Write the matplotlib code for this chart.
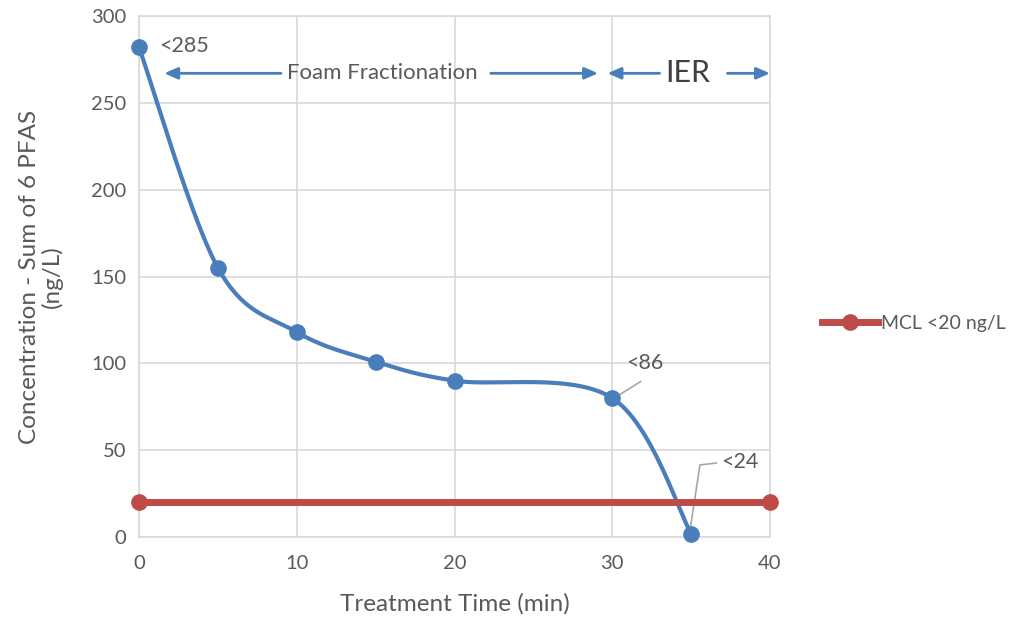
import numpy as np
import matplotlib
matplotlib.use("Agg")
import matplotlib.pyplot as plt
from matplotlib.lines import Line2D

# Data
times = [0, 5, 10, 15, 20, 30, 35]
conc = [282, 155, 118, 101, 90, 80, 2]
mcl_x = [0, 40]
mcl_y = [20, 20]
x_ticks = [0, 10, 20, 30, 40]
y_ticks = [0, 50, 100, 150, 200, 250, 300]

BLUE = "#4a7ebb"
RED = "#be4b48"
GRID = "#d9d9d9"
TXT = "#595959"
FONT = ["Lato", "DejaVu Sans"]
plt.rcParams['font.family'] = FONT

fig = plt.figure(figsize=(10.21, 6.24), dpi=100)
ax = fig.add_axes([139/1021, (624-537)/624, (770-139)/1021, (537-16)/624])
ax.set_xlim(0, 40)
ax.set_ylim(0, 300)
ax.set_xticks(x_ticks)
ax.set_yticks(y_ticks)
ax.grid(True, color=GRID, linewidth=1.2)
ax.set_axisbelow(True)
for s in ax.spines.values():
    s.set_color(GRID)
    s.set_linewidth(1.2)
ax.tick_params(axis='y', length=0, labelsize=14.5, colors=TXT, pad=9)
ax.tick_params(axis='x', length=0, labelsize=14.5, colors=TXT, pad=13)

# smoothed line (Catmull-Rom in display space, like Excel)
fig.canvas.draw()
pts = ax.transData.transform(np.column_stack([times, conc]))
P = np.vstack([pts[0], pts, pts[-1]])
curve = []
t = np.linspace(0, 1, 60)
for i in range(1, len(P) - 2):
    p0, p1, p2, p3 = P[i-1], P[i], P[i+1], P[i+2]
    c1 = p1 + (p2 - p0) / 6
    c2 = p2 - (p3 - p1) / 6
    b = ((1-t)**3)[:, None]*p1 + (3*(1-t)**2*t)[:, None]*c1 + (3*(1-t)*t**2)[:, None]*c2 + (t**3)[:, None]*p2
    curve.append(b)
curve = np.vstack(curve)
cd = ax.transData.inverted().transform(curve)
ax.plot(cd[:, 0], cd[:, 1], color=BLUE, linewidth=3, clip_on=False, zorder=3)
ax.plot(times, conc, 'o', color=BLUE, markersize=11, clip_on=False, zorder=4)

ax.plot(mcl_x, mcl_y, '-o', color=RED, linewidth=5, markersize=11, clip_on=False, zorder=3)

# annotations
ax.text(1.3, 283, "<285", fontsize=15.5, color=TXT, va='center', ha='left')
ax.text(15.45, 267, "Foam Fractionation", fontsize=16, color=TXT, va='center', ha='center')
arrow_kw = dict(arrowstyle='-|>,head_length=0.8,head_width=0.35', color=BLUE, lw=2, shrinkA=0, shrinkB=0)
ax.annotate("", xy=(1.6, 267), xytext=(9.0, 267), arrowprops=arrow_kw, annotation_clip=False)
ax.annotate("", xy=(29.1, 267), xytext=(22.3, 267), arrowprops=arrow_kw, annotation_clip=False)
ax.text(34.8, 267, "IER", fontsize=22, color="#404040", va='center', ha='center')
ax.annotate("", xy=(29.7, 267), xytext=(33.0, 267), arrowprops=arrow_kw, annotation_clip=False)
ax.annotate("", xy=(40.0, 267), xytext=(37.3, 267), arrowprops=arrow_kw, annotation_clip=False)

ax.plot([30.3, 31.8], [81, 89.5], color="#a6a6a6", lw=1.2, zorder=2)
ax.text(30.9, 100, "<86", fontsize=15.5, color=TXT, va='center', ha='left')
ax.plot([34.93, 35.56, 36.6], [4, 41.5, 42.6], color="#a6a6a6", lw=1.2, zorder=2)
ax.text(36.9, 43, "<24", fontsize=15.5, color=TXT, va='center', ha='left')

ax.set_xlabel("Treatment Time (min)", fontsize=17.5, color=TXT)
ax.xaxis.set_label_coords(0.5, -0.108)
ax.set_ylabel("Concentration - Sum of 6 PFAS\n(ng/L)", fontsize=17.5, color=TXT, linespacing=1.05)
ax.yaxis.set_label_coords(-0.12, 0.5)

handle = Line2D([0], [0], color=RED, linewidth=5, marker='o', markersize=11)
fig.legend([handle], ["MCL <20 ng/L"], loc='center left', bbox_to_anchor=(822/1021, 1 - 323/624),
           frameon=False, fontsize=14, labelcolor=TXT, handlelength=2.9, handletextpad=0.15,
           borderpad=0, borderaxespad=0)

fig.savefig("out.png", dpi=100)
